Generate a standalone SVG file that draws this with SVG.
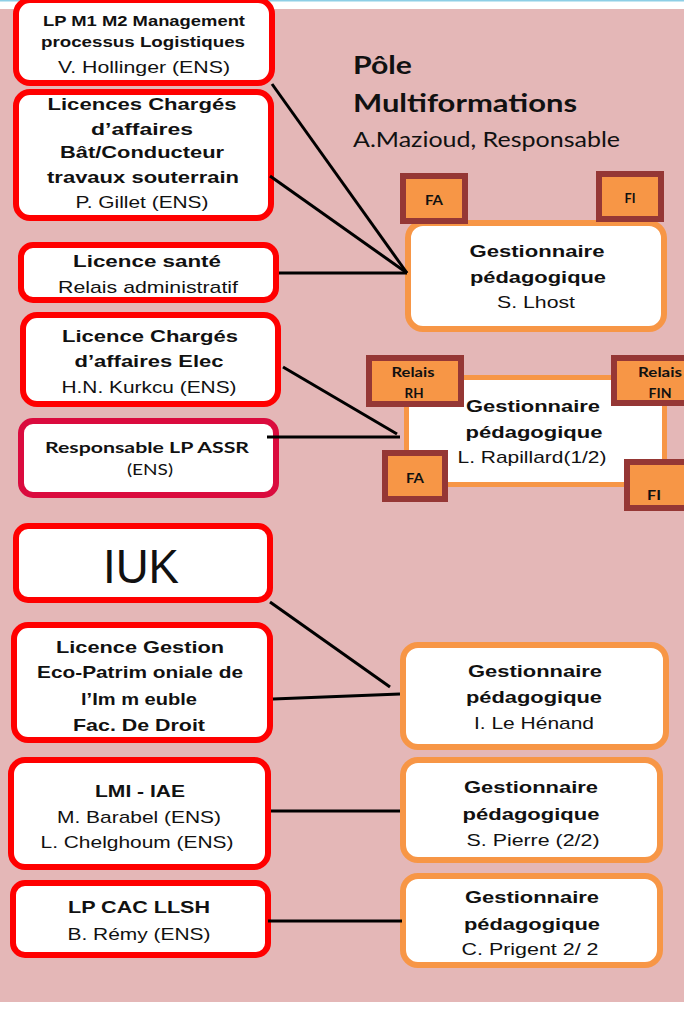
<svg xmlns="http://www.w3.org/2000/svg" width="684" height="1009" viewBox="0 0 684 1009">
<style>
.bg{fill:#E4B7B7}
.red{fill:#fff;stroke:#FF0000;stroke-width:6}
.crim{fill:#fff;stroke:#DA0B3E;stroke-width:6}
.org{fill:#fff;stroke:#F79646;stroke-width:6}
.tag{fill:#F79646;stroke:#953735;stroke-width:6}
.b{font-family:"Liberation Sans",Arial,sans-serif;font-weight:bold;font-size:17px;fill:#111;text-anchor:middle}
.r{font-family:"Liberation Sans",Arial,sans-serif;font-size:17px;fill:#111;text-anchor:middle}
.cb{font-family:Lato,"Open Sans",sans-serif;font-weight:bold;font-size:13px;fill:#111;text-anchor:middle}
.cr{font-family:Lato,"Open Sans",sans-serif;fill:#111}
.ln{stroke:#000;stroke-width:3;fill:none}
</style>
<rect x="0" y="0" width="684" height="1009" fill="#fff"/>
<rect x="0" y="0" width="684" height="1.5" fill="#8ECFE6"/>
<rect class="bg" x="0" y="9" width="684" height="993"/>

<g id="pole-title">
<text class="cr" x="353" y="74" style="font-size:25px;font-weight:bold" textLength="59" lengthAdjust="spacingAndGlyphs">Pôle</text>
<text class="cr" x="353" y="112" style="font-size:25px;font-weight:bold" textLength="224" lengthAdjust="spacingAndGlyphs">Multiformations</text>
<text class="cr" x="353" y="147" style="font-size:21px" textLength="267" lengthAdjust="spacingAndGlyphs">A.Mazioud, Responsable</text>
</g>

<g id="n-lpm1m2">
<rect class="red" x="16" y="0" width="256" height="83" rx="14"/>
<text class="b" x="144" y="26" style="font-size:15px" textLength="202" lengthAdjust="spacingAndGlyphs">LP M1  M2  Management</text>
<text class="b" x="143" y="47" style="font-size:15px" textLength="204" lengthAdjust="spacingAndGlyphs">processus Logistiques</text>
<text class="r" x="144" y="73" textLength="172" lengthAdjust="spacingAndGlyphs">V. Hollinger  (ENS)</text>
</g>

<g id="n-licences-charges">
<rect class="red" x="16" y="92" width="255" height="126" rx="14"/>
<text class="b" x="142" y="110" textLength="189" lengthAdjust="spacingAndGlyphs">Licences Chargés</text>
<text class="b" x="142" y="135" textLength="102" lengthAdjust="spacingAndGlyphs">d’affaires</text>
<text class="b" x="142" y="158" textLength="164" lengthAdjust="spacingAndGlyphs">Bât/Conducteur</text>
<text class="b" x="143" y="183" textLength="192" lengthAdjust="spacingAndGlyphs">travaux souterrain</text>
<text class="r" x="142" y="208" textLength="133" lengthAdjust="spacingAndGlyphs">P. Gillet  (ENS)</text>
</g>

<g id="n-licence-sante">
<rect class="red" x="21" y="245" width="255" height="55" rx="12"/>
<text class="b" x="147" y="267" textLength="148" lengthAdjust="spacingAndGlyphs">Licence santé</text>
<text class="r" x="148" y="293" textLength="180" lengthAdjust="spacingAndGlyphs">Relais administratif</text>
</g>

<g id="n-licence-elec">
<rect class="red" x="23" y="315" width="255" height="89" rx="14"/>
<text class="b" x="150" y="342" textLength="176" lengthAdjust="spacingAndGlyphs">Licence Chargés</text>
<text class="b" x="149" y="367" textLength="149" lengthAdjust="spacingAndGlyphs">d’affaires Elec</text>
<text class="r" x="149" y="393" textLength="175" lengthAdjust="spacingAndGlyphs">H.N. Kurkcu (ENS)</text>
</g>

<g id="n-lp-assr">
<rect class="crim" x="21" y="421" width="255" height="74" rx="12"/>
<text class="cb" x="147" y="453" style="font-size:15px" textLength="204" lengthAdjust="spacingAndGlyphs">Responsable   LP ASSR</text>
<text class="cb" x="150" y="475" style="font-size:15px;font-weight:normal" textLength="46" lengthAdjust="spacingAndGlyphs">(ENS)</text>
</g>

<g id="n-gest-lhost">
<rect class="org" x="408" y="223" width="256" height="106" rx="15"/>
<text class="b" x="537" y="257" textLength="135" lengthAdjust="spacingAndGlyphs">Gestionnaire</text>
<text class="b" x="538" y="283" textLength="136" lengthAdjust="spacingAndGlyphs">pédagogique</text>
<text class="r" x="536" y="308" textLength="78" lengthAdjust="spacingAndGlyphs">S. Lhost</text>
</g>

<g id="tag-fa-top">
<rect class="tag" x="403" y="176" width="62" height="45"/>
<text class="cb" x="434" y="205" textLength="18" lengthAdjust="spacingAndGlyphs">FA</text>
</g>
<g id="tag-fi-top">
<rect class="tag" x="599" y="174" width="62" height="45"/>
<text class="cb" x="630" y="203" textLength="11" lengthAdjust="spacingAndGlyphs">FI</text>
</g>

<g id="n-gest-rapillard">
<rect x="406.5" y="377.5" width="258" height="107" fill="#fff" stroke="#F79646" stroke-width="5"/>
<text class="b" x="533" y="412" textLength="134" lengthAdjust="spacingAndGlyphs">Gestionnaire</text>
<text class="b" x="534" y="438" textLength="137" lengthAdjust="spacingAndGlyphs">pédagogique</text>
<text class="r" x="532" y="463" textLength="149" lengthAdjust="spacingAndGlyphs">L. Rapillard(1/2)</text>
</g>

<g id="tag-relais-rh">
<rect class="tag" x="369" y="358" width="92" height="46"/>
<text class="cb" x="413" y="377" textLength="43" lengthAdjust="spacingAndGlyphs">Relais</text>
<text class="cb" x="414" y="398" textLength="19" lengthAdjust="spacingAndGlyphs">RH</text>
</g>
<g id="tag-relais-fin">
<rect class="tag" x="614" y="358" width="92" height="45"/>
<text class="cb" x="660" y="377" textLength="44" lengthAdjust="spacingAndGlyphs">Relais</text>
<text class="cb" x="660" y="398" textLength="23" lengthAdjust="spacingAndGlyphs">FIN</text>
</g>
<g id="tag-fa-low">
<rect class="tag" x="385" y="453" width="60" height="46"/>
<text class="cb" x="415" y="483" textLength="18" lengthAdjust="spacingAndGlyphs">FA</text>
</g>
<g id="tag-fi-low">
<rect class="tag" x="627" y="462" width="60" height="46"/>
<text class="cb" x="654" y="500" textLength="14" lengthAdjust="spacingAndGlyphs">FI</text>
</g>

<g id="n-iuk">
<rect class="red" x="16" y="526" width="254" height="74" rx="12"/>
<text class="r" x="141" y="583" style="font-size:49px" textLength="76" lengthAdjust="spacingAndGlyphs">IUK</text>
</g>

<g id="n-licence-gestion">
<rect class="red" x="14" y="625" width="256" height="115" rx="14"/>
<text class="b" x="140" y="653" textLength="168" lengthAdjust="spacingAndGlyphs">Licence Gestion</text>
<text class="b" x="140" y="678" textLength="206" lengthAdjust="spacingAndGlyphs">Eco-Patrim oniale de</text>
<text class="b" x="139" y="705" textLength="116" lengthAdjust="spacingAndGlyphs">l’Im m euble</text>
<text class="b" x="139" y="731" textLength="132" lengthAdjust="spacingAndGlyphs">Fac. De Droit</text>
</g>

<g id="n-gest-lehenand">
<rect class="org" x="403" y="645" width="263" height="102" rx="15"/>
<text class="b" x="535" y="677" textLength="134" lengthAdjust="spacingAndGlyphs">Gestionnaire</text>
<text class="b" x="534" y="703" textLength="136" lengthAdjust="spacingAndGlyphs">pédagogique</text>
<text class="r" x="534" y="729" textLength="120" lengthAdjust="spacingAndGlyphs">I. Le Hénand</text>
</g>

<g id="n-lmi-iae">
<rect class="red" x="11" y="760" width="257" height="107" rx="14"/>
<text class="b" x="140" y="797" textLength="90" lengthAdjust="spacingAndGlyphs">LMI - IAE</text>
<text class="r" x="139" y="823" textLength="164" lengthAdjust="spacingAndGlyphs">M. Barabel (ENS)</text>
<text class="r" x="137" y="848" textLength="193" lengthAdjust="spacingAndGlyphs">L. Chelghoum  (ENS)</text>
</g>

<g id="n-lp-cac">
<rect class="red" x="13" y="883" width="255" height="72" rx="12"/>
<text class="b" x="139" y="913" textLength="142" lengthAdjust="spacingAndGlyphs">LP CAC LLSH</text>
<text class="r" x="139" y="940" textLength="143" lengthAdjust="spacingAndGlyphs">B. Rémy  (ENS)</text>
</g>

<g id="n-gest-pierre">
<rect class="org" x="403" y="760" width="257" height="100" rx="15"/>
<text class="b" x="531" y="793" textLength="134" lengthAdjust="spacingAndGlyphs">Gestionnaire</text>
<text class="b" x="531" y="820" textLength="137" lengthAdjust="spacingAndGlyphs">pédagogique</text>
<text class="r" x="533" y="846" textLength="133" lengthAdjust="spacingAndGlyphs">S. Pierre (2/2)</text>
</g>

<g id="n-gest-prigent">
<rect class="org" x="403" y="876" width="257" height="89" rx="15"/>
<text class="b" x="532" y="903" textLength="134" lengthAdjust="spacingAndGlyphs">Gestionnaire</text>
<text class="b" x="532" y="930" textLength="136" lengthAdjust="spacingAndGlyphs">pédagogique</text>
<text class="r" x="530" y="955" textLength="137" lengthAdjust="spacingAndGlyphs">C. Prigent 2/ 2</text>
</g>

<g id="connectors" class="ln">
<line x1="272" y1="84" x2="407" y2="273"/>
<line x1="270" y1="176" x2="407" y2="273"/>
<line x1="279" y1="273" x2="407" y2="273"/>
<line x1="283" y1="367" x2="397" y2="434"/>
<line x1="267" y1="437" x2="400" y2="437"/>
<line x1="270" y1="602" x2="390" y2="687"/>
<line x1="273" y1="699" x2="400" y2="694"/>
<line x1="271" y1="811" x2="400" y2="811"/>
<line x1="268" y1="921" x2="402" y2="921"/>
</g>
</svg>
